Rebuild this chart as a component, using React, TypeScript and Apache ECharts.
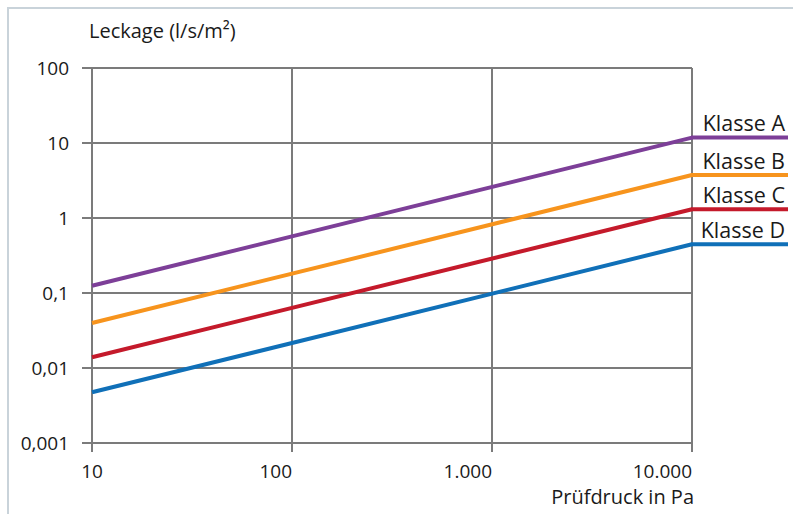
import React, { useEffect, useRef } from "react";
import * as echarts from "echarts";

const classNames = ["Klasse A", "Klasse B", "Klasse C", "Klasse D"];
const colors = ["#7d3f98", "#f7941d", "#c41a2b", "#1070b8"];
const pressureStart = 10;
const pressureEnd = 10000;
const leakAt10 = [0.125, 0.0398, 0.0139, 0.00474];
const leakAt10000 = [11.8, 3.74, 1.31, 0.446];
const yTickLabels: Record<string, string> = {
  "0.001": "0,001",
  "0.01": "0,01",
  "0.1": "0,1",
  "1": "1",
  "10": "10",
  "100": "100",
};
const xTickLabels: Record<string, string> = {
  "10": "10",
  "100": "100",
  "1000": "1.000",
  "10000": "10.000",
};
const xAxisTitle = "Prüfdruck in Pa";
const yAxisTitle = "Leckage (l/s/m²)";

const FONT = "'Open Sans', 'Noto Sans', sans-serif";
const GRID = "#7b7b7b";
const TXT = "#1a1a1a";

export default function App() {
  const ref = useRef<HTMLDivElement>(null);
  useEffect(() => {
    if (!ref.current) return;
    const chart = echarts.init(ref.current, undefined, { renderer: "svg" });
    const mainSeries = classNames.map((name, i) => ({
      name,
      type: "line",
      xAxisIndex: 0,
      yAxisIndex: 0,
      data: [
        [pressureStart, leakAt10[i]],
        [pressureEnd, leakAt10000[i]],
      ],
      symbol: "none",
      lineStyle: { color: colors[i], width: 4 },
      z: 3,
    }));
    const tailSeries = classNames.map((name, i) => ({
      name: name + " ",
      type: "line",
      xAxisIndex: 1,
      yAxisIndex: 1,
      data: [
        [0, leakAt10000[i]],
        [1, leakAt10000[i]],
      ],
      symbol: "none",
      clip: false,
      lineStyle: { color: colors[i], width: 4 },
      endLabel: {
        show: true,
        formatter: name,
        position: "top",
        align: "right",
        verticalAlign: "bottom",
        distance: 4,
        offset: [-7, -4],
        color: TXT,
        fontFamily: FONT,
        fontSize: 21.5,
      },
      z: 3,
    }));
    chart.setOption({
      animation: false,
      title: {
        text: xAxisTitle,
        right: 99,
        top: 486,
        padding: 0,
        textStyle: {
          color: TXT,
          fontFamily: FONT,
          fontSize: 20,
          fontWeight: "normal",
          lineHeight: 20,
        },
      },
      grid: [
        { left: 92, right: 101, top: 68, bottom: 71 },
        { left: 691, right: 5, top: 68, bottom: 71 },
      ],
      xAxis: [
        {
          type: "log",
          gridIndex: 0,
          logBase: 10,
          min: 10,
          max: 10000,
          axisLine: { show: true, lineStyle: { color: GRID, width: 2 } },
          axisTick: { show: true, inside: false, length: 9, lineStyle: { color: GRID, width: 2 } },
          splitLine: { show: true, lineStyle: { color: GRID, width: 2 } },
          axisLabel: {
            formatter: (v: number) => xTickLabels[String(Math.round(v))] ?? "",
            align: "right",
            alignMinLabel: "center",
            margin: 18,
            color: TXT,
            fontFamily: FONT,
            fontSize: 19,
            lineHeight: 19,
          },
        },
        { type: "value", gridIndex: 1, min: 0, max: 1, show: false },
      ],
      yAxis: [
        {
          type: "log",
          gridIndex: 0,
          logBase: 10,
          min: 0.001,
          max: 100,
          axisLine: { show: true, lineStyle: { color: GRID, width: 2 } },
          axisTick: { show: true, inside: false, length: 10, lineStyle: { color: GRID, width: 2 } },
          splitLine: { show: true, lineStyle: { color: GRID, width: 2 } },
          axisLabel: {
            formatter: (v: number) => {
              const k = String(parseFloat(v.toPrecision(3)));
              return yTickLabels[k] ?? "";
            },
            margin: 23,
            color: TXT,
            fontFamily: FONT,
            fontSize: 19,
          },
          name: yAxisTitle,
          nameLocation: "end",
          nameGap: 28,
          nameTextStyle: {
            align: "left",
            color: TXT,
            fontFamily: FONT,
            fontSize: 20,
            padding: [0, 0, 0, -3],
          },
        },
        { type: "log", gridIndex: 1, logBase: 10, min: 0.001, max: 100, show: false },
      ],
      series: [...mainSeries, ...tailSeries],
    });
    return () => chart.dispose();
  }, []);
  return (
    <div style={{ position: "absolute", left: 0, top: 0, width: 793, height: 514, background: "#fff" }}>
      <div
        style={{
          position: "absolute",
          left: 7,
          top: 7,
          width: 786,
          height: 507,
          borderLeft: "2px solid #c9d3da",
          borderTop: "2px solid #c9d3da",
          boxSizing: "border-box",
        }}
      />
      <div ref={ref} style={{ position: "absolute", left: 0, top: 0, width: 793, height: 514 }} />
    </div>
  );
}
